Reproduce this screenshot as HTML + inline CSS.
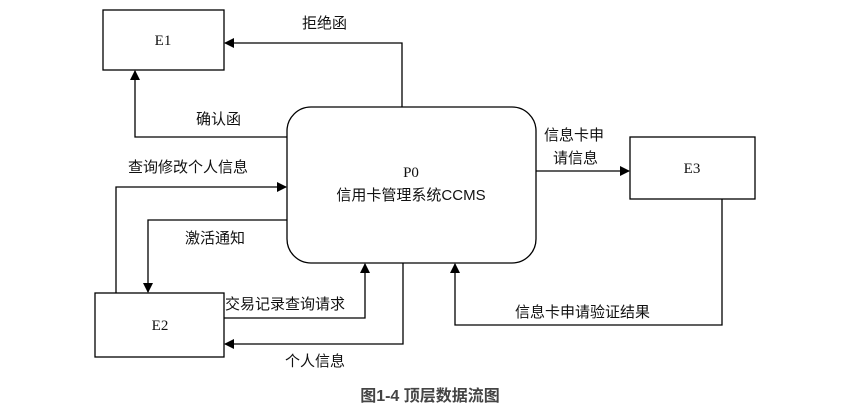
<!DOCTYPE html>
<html><head><meta charset="utf-8"><style>
body{margin:0;background:#fff}
svg{display:block}
.c{font-family:"Liberation Sans","Noto Sans CJK SC",sans-serif;font-size:15px;fill:#111}
.n{font-family:"Liberation Serif","Noto Serif CJK SC",serif;font-size:15px;fill:#111}
</style></head><body>
<svg width="862" height="413" viewBox="0 0 862 413" xmlns="http://www.w3.org/2000/svg">
<defs><marker id="a" markerWidth="10" markerHeight="10" refX="9" refY="5" orient="auto" markerUnits="userSpaceOnUse"><path d="M0,0 L10,5 L0,10 z" fill="#000"/></marker></defs>
<g fill="none" stroke="#000" stroke-width="1.3">
<rect x="103" y="10" width="121" height="60"/>
<rect x="95" y="293" width="129" height="64"/>
<rect x="630" y="137" width="125" height="62"/>
<rect x="287" y="107" width="249" height="156" rx="24" ry="24"/>
<polyline points="402,107 402,43 225,43" marker-end="url(#a)"/>
<polyline points="287,137 135,137 135,71" marker-end="url(#a)"/>
<polyline points="116,293 116,187 286,187" marker-end="url(#a)"/>
<polyline points="287,220 148,220 148,292" marker-end="url(#a)"/>
<polyline points="224,318 365,318 365,264" marker-end="url(#a)"/>
<polyline points="403,263 403,344 225,344" marker-end="url(#a)"/>
<polyline points="722,199 722,325 455,325 455,264" marker-end="url(#a)"/>
<polyline points="536,171 629,171" marker-end="url(#a)"/>
</g>
<text class="n" x="163" y="45" text-anchor="middle">E1</text>
<text class="n" x="160" y="330" text-anchor="middle">E2</text>
<text class="n" x="692" y="173" text-anchor="middle">E3</text>
<text class="n" x="411" y="177" text-anchor="middle">P0</text>
<text class="c" x="411" y="200" text-anchor="middle">信用卡管理系统CCMS</text>
<text class="c" x="302" y="28">拒绝函</text>
<text class="c" x="196" y="124">确认函</text>
<text class="c" x="128" y="172">查询修改个人信息</text>
<text class="c" x="185" y="243">激活通知</text>
<text class="c" x="225" y="309">交易记录查询请求</text>
<text class="c" x="285" y="366">个人信息</text>
<text class="c" x="515" y="317">信息卡申请验证结果</text>
<text class="c" x="544" y="140">信息卡申</text>
<text class="c" x="553" y="163">请信息</text>
<text x="430" y="401" text-anchor="middle" style="font-family:'Liberation Sans','Noto Sans CJK SC',sans-serif;font-size:16px;font-weight:bold;fill:#444">图1-4  顶层数据流图</text>
</svg>
</body></html>
